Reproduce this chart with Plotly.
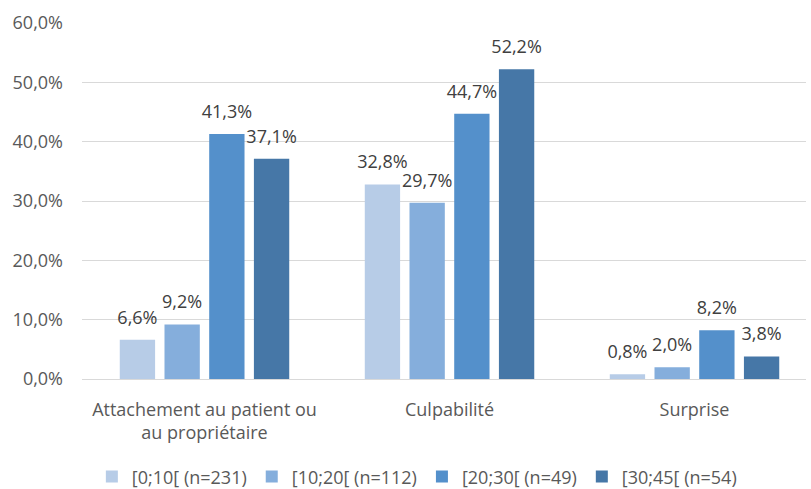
import plotly.graph_objects as go

categories = ["Attachement au patient ou<br>au propriétaire", "Culpabilité", "Surprise"]
series_names = ["[0;10[ (n=231)", "[10;20[ (n=112)", "[20;30[ (n=49)", "[30;45[ (n=54)"]
values = [
    [0.066, 0.328, 0.008],
    [0.092, 0.297, 0.020],
    [0.413, 0.447, 0.082],
    [0.371, 0.522, 0.038],
]
colors = ["#B7CCE7", "#85AEDC", "#5490CB", "#4677A7"]

FONT = "Open Sans"

fig = go.Figure()
for name, vals, col in zip(series_names, values, colors):
    fig.add_trace(go.Bar(
        x=categories, y=vals, name=name,
        marker=dict(color=col, line=dict(width=0)),
        hoverinfo="skip",
    ))
# data labels, grouped like the bars
for name, vals in zip(series_names, values):
    fig.add_trace(go.Scatter(
        x=categories, y=vals, name=name, mode="markers+text",
        marker=dict(size=17, color="rgba(0,0,0,0)"),
        texttemplate="%{y:.1%}", textposition="top center",
        textfont=dict(size=18, color="#404040", family=FONT),
        showlegend=False, hoverinfo="skip", cliponaxis=False,
    ))

fig.update_layout(
    width=811, height=489,
    margin=dict(l=82, r=5, t=23, b=110, autoexpand=False),
    plot_bgcolor="white", paper_bgcolor="white",
    separators=", ",
    barmode="group", bargap=0.27, bargroupgap=0.21,
    scattermode="group", scattergap=0.27,
    font=dict(family=FONT, size=18, color="#595959"),
    showlegend=True,
    legend=dict(orientation="h", xref="container", yref="container",
                x=0.514, xanchor="center", y=0.025, yanchor="middle",
                font=dict(size=18, color="#595959"), itemwidth=30, traceorder="normal"),
    xaxis=dict(range=[-0.5, 2.455], showgrid=False, showline=False, ticks="",
               automargin=False, ticklabelstandoff=18,
               tickfont=dict(size=18, color="#595959")),
    yaxis=dict(range=[0, 0.6], dtick=0.1, tickformat=".1%", showgrid=True,
               gridcolor="#D9D9D9", gridwidth=1, zeroline=True, zerolinecolor="#D9D9D9",
               zerolinewidth=1, showline=False, ticklabelstandoff=18, automargin=False,
               tickfont=dict(size=18, color="#595959")),
)

fig.write_html("out.html", config={"displayModeBar": False},
               post_script="document.body.style.margin='0';document.body.style.overflow='hidden';")
